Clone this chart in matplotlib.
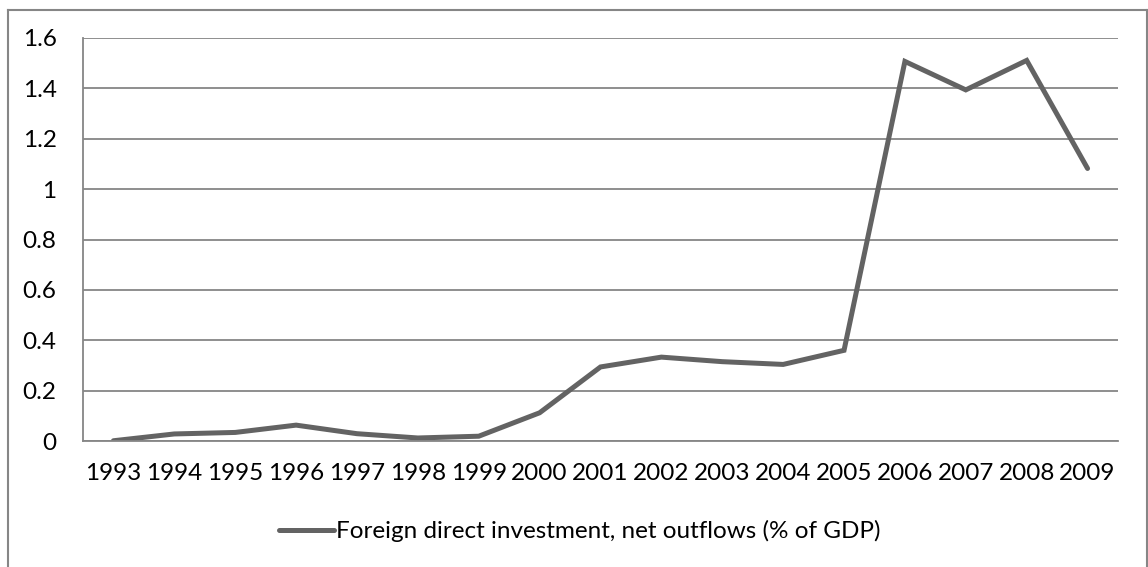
import matplotlib.pyplot as plt
from matplotlib.lines import Line2D

plt.rcParams['font.family'] = ['Lato', 'DejaVu Sans']

years = [str(y) for y in range(1993, 2010)]
fdi_outflows = [0.001, 0.028, 0.034, 0.063, 0.029, 0.012, 0.019, 0.112, 0.294,
                0.333, 0.315, 0.304, 0.360, 1.507, 1.394, 1.511, 1.082]

W, H = 1148, 567
fig = plt.figure(figsize=(W / 100, H / 100), dpi=100)
ax = fig.add_axes([83 / W, (H - 441) / H, (1118 - 83) / W, (441 - 38) / H])

grid_c = '#868686'
fs = 17.5
ax.plot(range(len(years)), fdi_outflows, color='#636363', lw=3.6,
        solid_joinstyle='miter', solid_capstyle='round',
        label='Foreign direct investment, net outflows (% of GDP)')

ax.set_xlim(-0.5, len(years) - 0.5)
ax.set_ylim(0, 1.6)
ax.set_yticks([0, 0.2, 0.4, 0.6, 0.8, 1.0, 1.2, 1.4, 1.6])
ax.set_yticklabels(['0', '0.2', '0.4', '0.6', '0.8', '1', '1.2', '1.4', '1.6'])
ax.set_xticks(range(len(years)))
ax.set_xticklabels(years)
ax.tick_params(length=0, labelsize=fs, colors='black')
ax.tick_params(axis='y', pad=19)
ax.tick_params(axis='x', pad=16)
ax.grid(axis='y', color=grid_c, lw=1.3)
ax.set_axisbelow(True)
for s in ['top', 'right']:
    ax.spines[s].set_visible(False)
for s in ['left', 'bottom']:
    ax.spines[s].set_color(grid_c)
    ax.spines[s].set_linewidth(1.3)

fig.legend(loc='center', bbox_to_anchor=(580 / W, 1 - 531 / H), frameon=False,
           fontsize=fs, handlelength=2.25, handletextpad=0.1)

# outer chart frame (open at the bottom)
frame = dict(color=grid_c, lw=1.5, transform=fig.transFigure)
fig.add_artist(Line2D([7.5 / W, 7.5 / W], [0, 1 - 9.5 / H], **frame))
fig.add_artist(Line2D([7.5 / W, 1146.5 / W], [1 - 9.5 / H, 1 - 9.5 / H], **frame))
fig.add_artist(Line2D([1146.5 / W, 1146.5 / W], [0, 1 - 9.5 / H], **frame))

fig.savefig('out.png', dpi=100)
